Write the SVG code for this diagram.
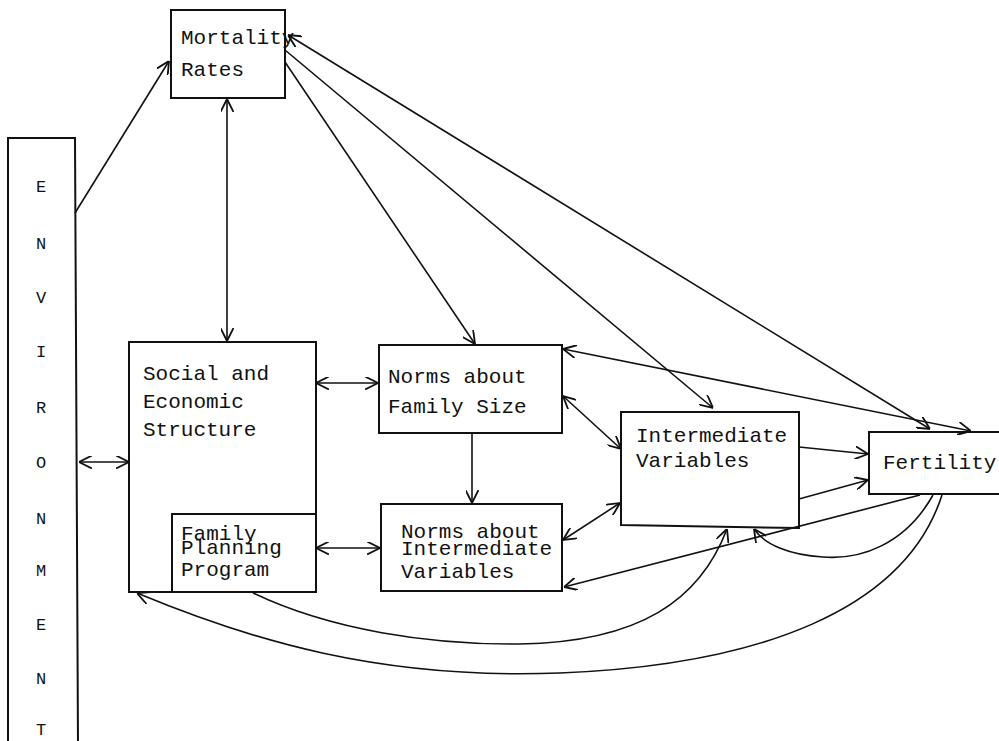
<svg xmlns="http://www.w3.org/2000/svg" width="999" height="741" viewBox="0 0 999 741">
  <style>
    .box { fill: none; stroke: #111; stroke-width: 2; }
    .lbl { font-family: "Liberation Mono", "Courier New", monospace; font-size: 21px; fill: #111; }
    .env { font-family: "Liberation Mono", "Courier New", monospace; font-size: 17px; fill: #111; text-anchor: middle; }
    .cn { fill: none; stroke: #111; stroke-width: 1.6; }
  </style>
  <defs>
    <marker id="arr" viewBox="0 0 10 10" refX="10" refY="5" markerUnits="userSpaceOnUse" markerWidth="13" markerHeight="13" orient="auto-start-reverse">
      <path d="M0,0 L10,5 L0,10" fill="none" stroke="#111" stroke-width="1.4"/>
    </marker>
  </defs>

  <rect width="999" height="741" fill="#fff"/>

  <!-- Environment bar -->
  <g id="environment">
    <path class="box" d="M8,745 L8,138 L75,138 L78,745"/>
    <text class="env" x="41" y="192">E</text>
    <text class="env" x="41" y="249">N</text>
    <text class="env" x="41" y="303">V</text>
    <text class="env" x="41" y="357">I</text>
    <text class="env" x="41" y="413">R</text>
    <text class="env" x="41" y="468">O</text>
    <text class="env" x="41" y="524">N</text>
    <text class="env" x="41" y="576">M</text>
    <text class="env" x="41" y="630">E</text>
    <text class="env" x="41" y="684">N</text>
    <text class="env" x="41" y="735">T</text>
  </g>

  <!-- Mortality Rates -->
  <g id="mortality">
    <rect class="box" x="171" y="10" width="114" height="88"/>
    <text class="lbl" x="181" y="44">Mortality</text>
    <text class="lbl" x="181" y="76">Rates</text>
  </g>

  <!-- Social and Economic Structure with Family Planning Program -->
  <g id="social">
    <rect class="box" x="129" y="342" width="187" height="250"/>
    <text class="lbl" x="143" y="380">Social and</text>
    <text class="lbl" x="143" y="408">Economic</text>
    <text class="lbl" x="143" y="436">Structure</text>
  </g>
  <g id="family-planning">
    <path class="box" d="M172,592 L172,514 L316,514"/>
    <text class="lbl" x="181" y="540">Family</text>
    <text class="lbl" x="181" y="554">Planning</text>
    <text class="lbl" x="181" y="576">Program</text>
  </g>

  <!-- Norms about Family Size -->
  <g id="norms-size">
    <rect class="box" x="379" y="345" width="183" height="88"/>
    <text class="lbl" x="388" y="383">Norms about</text>
    <text class="lbl" x="388" y="413">Family Size</text>
  </g>

  <!-- Norms about Intermediate Variables -->
  <g id="norms-intermediate">
    <rect class="box" x="381" y="504" width="181" height="87"/>
    <text class="lbl" x="401" y="538">Norms about</text>
    <text class="lbl" x="401" y="555">Intermediate</text>
    <text class="lbl" x="401" y="578">Variables</text>
  </g>

  <!-- Intermediate Variables -->
  <g id="intermediate">
    <path class="box" d="M621,412 L799,412 L799,528 L621,525 Z"/>
    <text class="lbl" x="636" y="442">Intermediate</text>
    <text class="lbl" x="636" y="467">Variables</text>
  </g>

  <!-- Fertility -->
  <g id="fertility">
    <path class="box" d="M1010,432 L869,432 L869,494 L1010,494"/>
    <text class="lbl" x="883" y="469">Fertility</text>
  </g>

  <!-- Connectors -->
  <g id="connectors">
    <!-- environment -->
    <line class="cn" x1="75" y1="213" x2="169" y2="61" marker-end="url(#arr)"/>
    <line class="cn" x1="79" y1="462" x2="129" y2="462" marker-start="url(#arr)" marker-end="url(#arr)"/>

    <!-- from mortality -->
    <line class="cn" x1="227" y1="99" x2="227" y2="341" marker-start="url(#arr)" marker-end="url(#arr)"/>
    <line class="cn" x1="288" y1="35" x2="930" y2="429" marker-start="url(#arr)" marker-end="url(#arr)"/>
    <line class="cn" x1="285" y1="50" x2="713" y2="408" marker-end="url(#arr)"/>
    <line class="cn" x1="285" y1="62" x2="475" y2="344" marker-end="url(#arr)"/>

    <!-- social / planning to norms -->
    <line class="cn" x1="316" y1="383" x2="378" y2="383" marker-start="url(#arr)" marker-end="url(#arr)"/>
    <line class="cn" x1="316" y1="548" x2="380" y2="548" marker-start="url(#arr)" marker-end="url(#arr)"/>

    <!-- norms -->
    <line class="cn" x1="472" y1="433" x2="472" y2="503" marker-end="url(#arr)"/>
    <line class="cn" x1="563" y1="349" x2="971" y2="431" marker-start="url(#arr)" marker-end="url(#arr)"/>
    <line class="cn" x1="563" y1="396" x2="621" y2="449" marker-start="url(#arr)" marker-end="url(#arr)"/>
    <line class="cn" x1="563" y1="540" x2="620" y2="503" marker-start="url(#arr)" marker-end="url(#arr)"/>

    <!-- intermediate to fertility -->
    <line class="cn" x1="799" y1="447" x2="868" y2="454" marker-end="url(#arr)"/>
    <line class="cn" x1="799" y1="499" x2="868" y2="480" marker-end="url(#arr)"/>

    <!-- feedback from fertility -->
    <line class="cn" x1="920" y1="495" x2="564" y2="587" marker-end="url(#arr)"/>
    <path class="cn" d="M933,495 C905,545 860,560 823,557 C790,555 765,545 754,529" marker-end="url(#arr)"/>
    <path class="cn" d="M942,495 C905,610 760,665 560,673 C380,680 250,640 137,593" marker-end="url(#arr)"/>

    <!-- planning program to intermediate variables -->
    <path class="cn" d="M253,593 C330,630 430,645 520,644 C640,642 700,600 727,529" marker-end="url(#arr)"/>
  </g>
</svg>
